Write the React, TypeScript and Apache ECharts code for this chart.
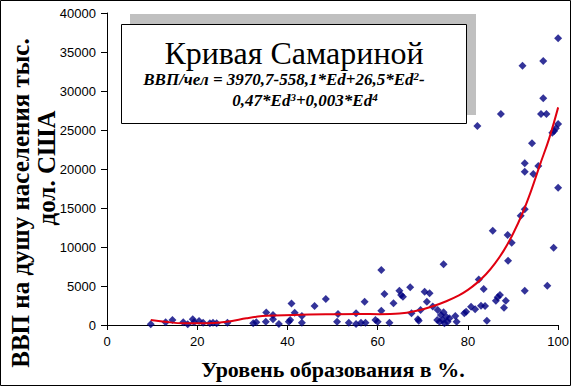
import React, { useEffect, useRef } from "react";
import * as echarts from "echarts";

// Scatter points: education level (%) and GDP per capita
const eduLevel = [
  9.7, 13.0, 14.5, 16.9, 17.9, 19.0, 19.3, 20.4, 21.3, 22.8, 23.5, 24.3, 26.7,
  32.4, 33.1, 35.3, 35.2, 36.8, 36.8, 38.1, 40.3, 40.6, 40.9, 41.6, 43.2, 43.2,
  46.0, 48.5, 51.2, 51.0, 53.6, 55.2, 55.2, 56.3, 57.3, 57.1, 59.5, 60.0, 60.8,
  61.5, 60.8, 62.6, 63.5, 64.8, 65.2, 65.6, 67.2, 67.5, 68.9, 69.1, 69.5, 70.4,
  71.5, 70.9, 72.2, 73.3, 74.6, 73.7, 74.0, 74.4, 74.6, 74.8, 75.2, 75.5, 75.9,
  73.2, 77.2, 77.5, 79.2, 79.6, 80.7, 81.6, 82.9, 83.8, 84.2, 82.4, 83.5, 85.5,
  86.2, 86.6, 87.1, 88.4, 88.0, 88.8, 89.7, 88.9, 91.7, 92.6, 92.6, 92.6, 92.6,
  94.5, 95.6, 97.6, 99.0, 100, 100, 96.7, 92.1, 96.7, 87.3, 96.2, 97.4, 82.1,
  100, 99.5, 99.1, 98.7, 94.2,
];
const gdpPerCapita = [
  90, 350, 640, 350, 90, 730, 350, 510, 300, 220, 300, 220, 300,
  220, 350, 1600, 420, 1280, 730, 130, 420, 640, 2750, 1580, 1150, 300,
  2440, 3330, 1410, 420, 300, 1500, 130, 300, 300, 2990, 640, 420, 7050,
  3970, 1830, 300, 2780, 4400, 3850, 3630, 4830, 1500, 730, 550, 1920, 4270,
  4060, 2990, 2370, 1920, 7780, 420, 1280, 640, 1630, 220, 1060, 420, 860,
  640, 1150, 420, 1500, 1700, 2350, 2010, 2480, 2440, 550, 5830, 4620, 12090,
  3120, 3550, 3850, 3120, 2220, 11540, 10550, 8240, 14010, 14830, 4400, 20730, 19650,
  19360, 20380, 5040, 9910, 17600, 36750, 33840, 33240, 29060, 27050, 27050, 27050, 25510,
  25770, 25220, 24870, 24650, 23290,
];

// Trend curve
const curveX = [9.7, 12.8, 16.9, 21.3, 26.5, 30.9, 33.1, 35.3, 41.2, 48.5, 56, 60.4, 64.8, 69.2, 72.2, 75.2, 78, 80, 82, 84, 86, 88, 90, 92, 94, 96, 98, 100];
const curveY = [640, 420, 220, 220, 420, 860, 1060, 1190, 1280, 1370, 1410, 1390, 1460, 1900, 2400, 3050, 3800, 4500, 5400, 6500, 7900, 9600, 11700, 14200, 17200, 20600, 23900, 27900];

const xTicks = [0, 20, 40, 60, 80, 100];
const yTicks = [0, 5000, 10000, 15000, 20000, 25000, 30000, 35000, 40000];

const titleText = "Кривая Самариной";
const xName = "Уровень образования в %.";
const yNameLine1 = "ВВП на душу населения тыс.";
const yNameLine2 = "дол. США";

const SERIF = "Liberation Serif";

export default function App() {
  const ref = useRef<HTMLDivElement>(null);
  useEffect(() => {
    document.body.style.margin = "0";
    const chart = echarts.init(ref.current!, null, { renderer: "svg" });
    const fb = { font: `italic bold 17px "${SERIF}"`, fill: "#000" };
    const fs = { font: `italic bold 11px "${SERIF}"`, fill: "#000" };
    chart.setOption({
      animation: false,
      backgroundColor: "#fff",
      grid: { left: 107, right: 13, top: 13, bottom: 62, containLabel: false },
      xAxis: {
        type: "value",
        min: xTicks[0],
        max: xTicks[xTicks.length - 1],
        interval: 20,
        splitLine: { show: false },
        axisLine: { show: true, onZero: false, lineStyle: { color: "#000", width: 1 } },
        axisTick: { show: true, length: 5, lineStyle: { color: "#000" } },
        axisLabel: { color: "#000", fontFamily: "Liberation Sans", fontSize: 13, margin: 10, formatter: (v: number) => String(v) },
      },
      yAxis: {
        type: "value",
        min: yTicks[0],
        max: yTicks[yTicks.length - 1],
        interval: 5000,
        splitLine: { show: false },
        axisLine: { show: true, lineStyle: { color: "#000", width: 1 } },
        axisTick: { show: true, length: 6, lineStyle: { color: "#000" } },
        axisLabel: { color: "#000", fontFamily: "Liberation Sans", fontSize: 13, margin: 11, formatter: (v: number) => String(v) },
      },
      series: [
        {
          type: "scatter",
          data: eduLevel.map((x, i) => [x, gdpPerCapita[i]]),
          symbol: "diamond",
          symbolSize: 8,
          itemStyle: { color: "#000080" },
          z: 2,
        },
        {
          type: "line",
          data: curveX.map((x, i) => [x, curveY[i]]),
          smooth: 0.4,
          showSymbol: false,
          lineStyle: { color: "#e00010", width: 2 },
          z: 3,
        },
      ],
      graphic: [
        { type: "rect", shape: { x: 0.5, y: 0.5, width: 570, height: 385 }, style: { fill: "none", stroke: "#000", lineWidth: 1 }, z: 100 },
        { type: "rect", shape: { x: 130, y: 14, width: 346, height: 101 }, style: { fill: "#c0c0c0" }, z: 100 },
        { type: "rect", shape: { x: 121.5, y: 24.5, width: 345, height: 99 }, style: { fill: "#fff", stroke: "#000", lineWidth: 1 }, z: 101 },
        {
          type: "text", x: 294, y: 53, z: 102,
          style: { text: titleText, font: `normal 32px "${SERIF}"`, fill: "#000", align: "center", verticalAlign: "middle" },
        },
        {
          type: "text", x: 284, y: 79, z: 102,
          style: {
            text: "{b|ВВП/чел = 3970,7-558,1*Ed+26,5*Ed}{s|2}{b|-}",
            align: "center", verticalAlign: "middle",
            rich: { b: { ...fb, verticalAlign: "bottom" }, s: { ...fs, verticalAlign: "top" } },
          },
        },
        {
          type: "text", x: 305, y: 100, z: 102,
          style: {
            text: "{b|0,47*Ed}{s|3}{b|+0,003*Ed}{s|4}",
            align: "center", verticalAlign: "middle",
            rich: { b: { ...fb, verticalAlign: "bottom" }, s: { ...fs, verticalAlign: "top" } },
          },
        },
        {
          type: "text", x: 20, y: 203, rotation: Math.PI / 2, z: 102,
          style: { text: yNameLine1, font: `bold 25px "${SERIF}"`, fill: "#000", align: "center", verticalAlign: "middle" },
        },
        {
          type: "text", x: 46, y: 168, rotation: Math.PI / 2, z: 102,
          style: { text: yNameLine2, font: `bold 25px "${SERIF}"`, fill: "#000", align: "center", verticalAlign: "middle" },
        },
        {
          type: "text", x: 333, y: 369, z: 102,
          style: { text: xName, font: `bold 22px "${SERIF}"`, fill: "#000", align: "center", verticalAlign: "middle" },
        },
      ],
    });
    return () => chart.dispose();
  }, []);
  return <div ref={ref} style={{ position: "absolute", left: 0, top: 0, width: 572, height: 387 }} />;
}
